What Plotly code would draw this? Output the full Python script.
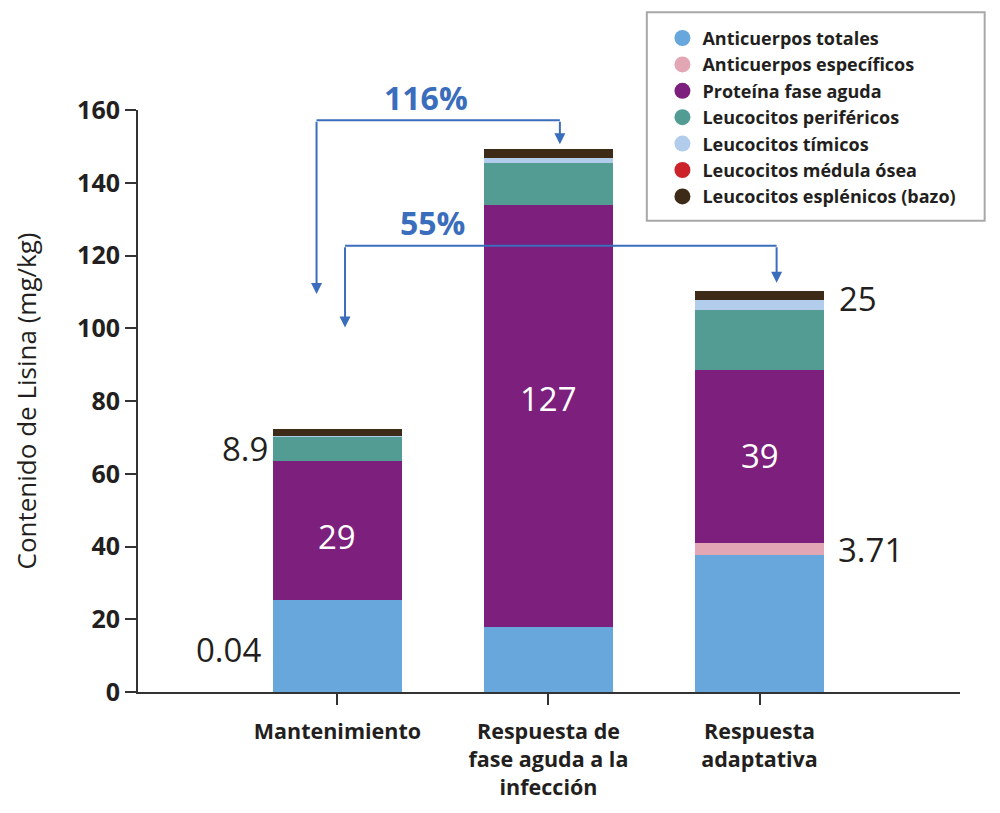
import plotly.graph_objects as go

categories = ["Mantenimiento", "Respuesta de<br>fase aguda a la<br>infección", "Respuesta<br>adaptativa"]
series_names = ["Anticuerpos totales", "Anticuerpos específicos", "Proteína fase aguda",
                "Leucocitos periféricos", "Leucocitos tímicos", "Leucocitos médula ósea",
                "Leucocitos esplénicos (bazo)"]
colors = ["#67a7dc", "#e3a6b4", "#7d1f7c", "#529c94", "#b2cdeb", "#cc2229", "#3d2b18"]

anticuerpos_totales = [25.3, 18.0, 37.8]
anticuerpos_especificos = [0.04, 0.0, 3.2]
proteina_fase_aguda = [38.1, 115.8, 47.4]
leucocitos_perifericos = [6.8, 11.5, 16.6]
leucocitos_timicos = [0.1, 1.4, 2.7]
leucocitos_medula = [0.0, 0.0, 0.0]
leucocitos_esplenicos = [1.9, 2.5, 2.5]

series_values = [anticuerpos_totales, anticuerpos_especificos, proteina_fase_aguda,
                 leucocitos_perifericos, leucocitos_timicos, leucocitos_medula,
                 leucocitos_esplenicos]

y_ticks = [0, 20, 40, 60, 80, 100, 120, 140, 160]

# value labels: (text, x, y, color)
value_labels = [
    ("0.04", -0.514, 11.7, "#231f20"),
    ("8.9", -0.438, 66.9, "#231f20"),
    ("29", 0, 42.7, "white"),
    ("127", 1, 80.8, "white"),
    ("39", 2, 65.0, "white"),
    ("25", 2.467, 108.3, "#231f20"),
    ("3.71", 2.524, 39.2, "#231f20"),
]

# comparison brackets: (label, x_left, x_right, y_bar, y_left_tip, y_right_tip, label_x, label_y)
brackets = [
    ("116%", -0.099, 1.054, 157.2, 109.4, 150.6, 0.42, 163.5),
    ("55%", 0.036, 2.081, 122.7, 100.2, 112.5, 0.45, 129.0),
]

FONT = "Open Sans"
TXT = "#231f20"
BLUE = "#3b6dbd"

fig = go.Figure()
xs = [0, 1, 2]
for name, vals, col in zip(series_names, series_values, colors):
    fig.add_trace(go.Bar(x=xs, y=vals, name=name, marker=dict(color=col, line=dict(width=0)),
                         width=0.61, showlegend=False, hoverinfo="y+name"))
for name, col in zip(series_names, colors):
    fig.add_trace(go.Scatter(x=[None], y=[None], mode="markers", name=name,
                             marker=dict(symbol="circle", size=16, color=col)))

for text, x, y, c in value_labels:
    fig.add_annotation(x=x, y=y, text=text, showarrow=False,
                       font=dict(family=FONT, size=33, color=c))

for label, xl, xr, yb, ylt, yrt, lx, ly in brackets:
    fig.add_shape(type="line", x0=xl, x1=xr, y0=yb, y1=yb, xref="x", yref="y",
                  line=dict(color=BLUE, width=2))
    for xx, yt in ((xl, ylt), (xr, yrt)):
        fig.add_annotation(x=xx, y=yt, ax=xx, ay=yb, xref="x", yref="y", axref="x", ayref="y",
                           text="", showarrow=True, arrowhead=2, arrowsize=1.1, arrowwidth=2,
                           arrowcolor=BLUE)
    fig.add_annotation(x=lx, y=ly / 160.0, xref="x", yref="paper", text="<b>" + label + "</b>",
                       xanchor="center", yanchor="middle",
                       showarrow=False, font=dict(family=FONT, size=32, color=BLUE))

# legend frame
fig.add_shape(type="rect", xref="paper", yref="paper", x0=0.619, x1=1.030, y0=0.8095, y1=1.168,
              line=dict(color="#a8a8a8", width=2), fillcolor="white", layer="below")

fig.update_layout(
    width=992, height=805,
    margin=dict(l=130, r=40, t=99, b=118),
    barmode="stack",
    plot_bgcolor="white", paper_bgcolor="white",
    font=dict(family=FONT, color=TXT),
    legend=dict(x=0.638, y=1.155, xanchor="left", yanchor="top", bgcolor="rgba(0,0,0,0)",
                font=dict(family=FONT, size=18, color=TXT, weight="bold"),
                itemsizing="trace", traceorder="normal"),
    xaxis=dict(range=[-0.945, 2.95], tickmode="array", tickvals=xs, ticktext=categories,
               showline=True, linecolor="#333333", linewidth=2, ticks="outside", ticklen=11,
               tickwidth=2, tickcolor="#333333", showgrid=False, zeroline=False,
               ticklabelstandoff=8,
               tickfont=dict(family=FONT, size=21.5, color=TXT, weight="bold")),
    yaxis=dict(range=[0, 160], tickvals=y_ticks, showline=True, linecolor="#333333", linewidth=2,
               ticks="outside", ticklen=11, tickwidth=2, tickcolor="#333333", showgrid=False,
               zeroline=False,
               tickfont=dict(family=FONT, size=25, color=TXT, weight="bold"),
               title=dict(text="Contenido de Lisina (mg/kg)", standoff=34,
                          font=dict(family=FONT, size=26, color=TXT))),
)

fig.write_html("out.html")
